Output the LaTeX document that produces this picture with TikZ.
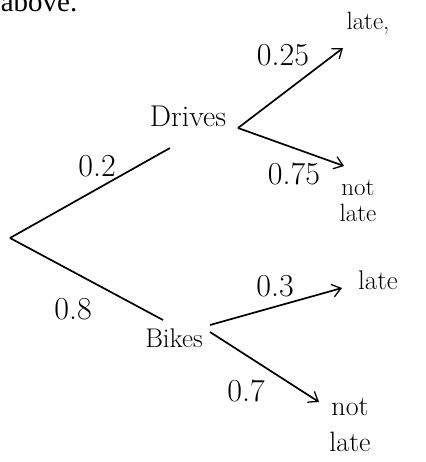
\documentclass[tikz,border=0pt]{standalone}
\usepackage{fontspec}
\newfontfamily\printfont{Liberation Serif}
\usetikzlibrary{arrows.meta,positioning}

\begin{document}
\begin{tikzpicture}[x=1pt, y=-1pt, line width=1.7pt,
  hand/.style={font=\fontsize{32}{32}\selectfont, inner sep=1pt},
  leaf/.style={font=\fontsize{25}{26}\selectfont, inner sep=1pt, align=center},
  branch/.style={-{Straight Barb[length=3mm, width=4.5mm, line width=1.3pt]}}]
\useasboundingbox (0,0) rectangle (425,462);
% printed text cut off at the top
\node[anchor=base west, inner sep=0pt, font=\printfont\fontsize{29}{29}\selectfont] (above) at (0,12) {above.};
% root and first level
\coordinate (root) at (10,238);
\node[hand, font=\fontsize{30}{30}\selectfont] (drives) at (188,116) {Drives};
\coordinate (dleft) at (170,148);
\coordinate (dright) at (238,128);
\node[hand, font=\fontsize{27}{27}\selectfont] (bikes) at (174,338) {Bikes};
\coordinate (bleft) at (163,320);
\coordinate (bright) at (210,325);
\coordinate (bdown) at (210,332);
\draw (root) -- (dleft);
\draw (root) -- (bleft);
\node[hand] (p02) at (97,166) {0.2};
\node[hand] (p08) at (73,309) {0.8};
% leaves
\node[leaf] (late1) at (368,23) {late,};
\node[leaf] (notlate1) at (358,201) {not\\late};
\node[leaf, font=\fontsize{27}{27}\selectfont] (late2) at (378,280) {late};
\node[leaf, font=\fontsize{28}{36}\selectfont] (notlate2) at (350,425) {not\\late};
\draw[branch] (dright) -- (343,48) coordinate (a1);
\draw[branch] (dright) -- (344,166) coordinate (a2);
\draw[branch] (bright) -- (342,288) coordinate (a3);
\draw[branch] (bdown) -- (319,402) coordinate (a4);
\node[hand] (p025) at (283,55) {0.25};
\node[hand] (p075) at (294,174) {0.75};
\node[hand] (p03) at (275,286) {0.3};
\node[hand] (p07) at (246,391) {0.7};
\end{tikzpicture}
\end{document}
